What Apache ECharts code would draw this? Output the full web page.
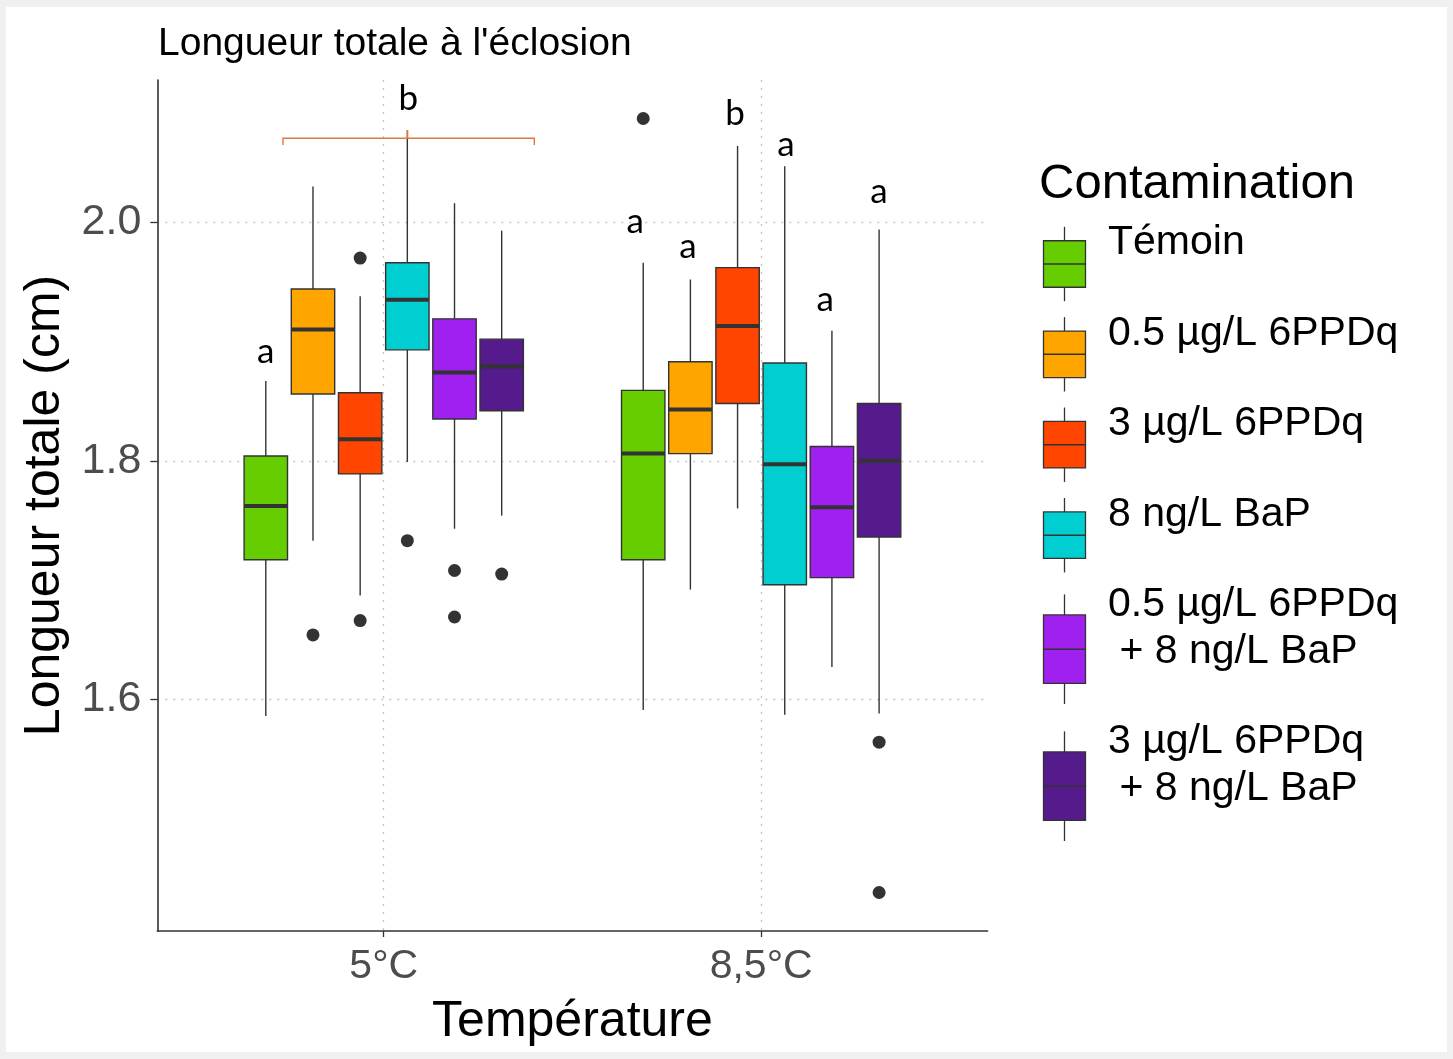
<!DOCTYPE html>
<html>
<head>
<meta charset="utf-8">
<script src="https://cdn.jsdelivr.net/npm/echarts@6/dist/echarts.min.js"></script>
<style>
  html, body { margin: 0; padding: 0; background: #f0f0f0; }
  #main { width: 1453px; height: 1059px; }
</style>
</head>
<body>
<div id="main"></div>
<script>
// Temperature groups on the x axis
const temperatures = ['5°C', '8,5°C'];

// Contamination treatments (legend order)
const treatments = [
  'Témoin',
  '0.5 µg/L 6PPDq',
  '3 µg/L 6PPDq',
  '8 ng/L BaP',
  '0.5 µg/L 6PPDq\n + 8 ng/L BaP',
  '3 µg/L 6PPDq\n + 8 ng/L BaP'
];
const treatmentColors = ['#66CD00', '#FFA500', '#FF4500', '#00CED1', '#A020F0', '#551A8B'];

// Box statistics per treatment, one row per temperature:
// [lower whisker, Q1, median, Q3, upper whisker] (cm)
const temoin   = [[1.586, 1.717, 1.762, 1.804, 1.867], [1.591, 1.717, 1.806, 1.859, 1.966]];
const ppdq05   = [[1.733, 1.856, 1.910, 1.944, 2.030], [1.692, 1.806, 1.843, 1.883, 1.952]];
const ppdq3    = [[1.687, 1.789, 1.818, 1.857, 1.938], [1.760, 1.848, 1.913, 1.962, 2.064]];
const bap8     = [[1.799, 1.893, 1.935, 1.966, 2.070], [1.587, 1.696, 1.797, 1.882, 2.047]];
const mix05    = [[1.743, 1.835, 1.874, 1.919, 2.016], [1.627, 1.702, 1.761, 1.812, 1.909]];
const mix3     = [[1.754, 1.842, 1.879, 1.902, 1.993], [1.588, 1.736, 1.800, 1.848, 1.994]];

// Outlying observations per treatment, one list per temperature
const temoinOut = [[], [2.087]];
const ppdq05Out = [[1.654], []];
const ppdq3Out  = [[1.970, 1.666], []];
const bap8Out   = [[1.733], []];
const mix05Out  = [[1.708, 1.669], []];
const mix3Out   = [[1.705], [1.564, 1.438]];

// Significance letters (x in axis units, y = text baseline in cm)
const sigText = ['a', 'b', 'a', 'a', 'b', 'a', 'a', 'a'];
const sigX    = [0.687, 1.065, 1.666, 1.806, 1.931, 2.066, 2.170, 2.312];
const sigY    = [1.880, 2.092, 1.989, 1.968, 2.080, 2.054, 1.924, 2.014];

// Bracket over the 5°C group: x = [start, centre, end], y = [tips, bar, centre tick]
const bracketX = [0.733, 1.0625, 1.399];
const bracketY = [2.0648, 2.0704, 2.0774];

// Axis ticks
const yTicks = [1.6, 1.8, 2.0];
const xTicks = [1, 2];

const boxStats = [temoin, ppdq05, ppdq3, bap8, mix05, mix3];
const boxOutliers = [temoinOut, ppdq05Out, ppdq3Out, bap8Out, mix05Out, mix3Out];

const DODGE = 0.125;      // spacing between treatments within a group
const BOX_WIDTH = 0.115;  // box width in x-axis units
const INK = '#333333';
const FONT = "'Liberation Sans', Arial, sans-serif";

function boxX(group, idx) {
  return group + 1 + (idx - 2.5) * DODGE;
}

const boxSeries = boxStats.map((stats, idx) => ({
  type: 'custom',
  name: treatments[idx],
  z: 3,
  data: stats.map((s, g) => [boxX(g, idx)].concat(s)),
  encode: { x: 0, y: [1, 2, 3, 4, 5] },
  renderItem(params, api) {
    const x = api.value(0);
    const lo = api.coord([x, api.value(1)]);
    const q1 = api.coord([x, api.value(2)]);
    const med = api.coord([x, api.value(3)]);
    const q3 = api.coord([x, api.value(4)]);
    const hi = api.coord([x, api.value(5)]);
    const w = api.size([BOX_WIDTH, 0])[0];
    const lineStyle = { stroke: INK, lineWidth: 1.4 };
    return {
      type: 'group',
      children: [
        { type: 'line', shape: { x1: lo[0], y1: lo[1], x2: q1[0], y2: q1[1] }, style: lineStyle },
        { type: 'line', shape: { x1: q3[0], y1: q3[1], x2: hi[0], y2: hi[1] }, style: lineStyle },
        {
          type: 'rect',
          shape: { x: q3[0] - w / 2, y: q3[1], width: w, height: q1[1] - q3[1] },
          style: { fill: treatmentColors[idx], stroke: INK, lineWidth: 1.4 }
        },
        {
          type: 'line',
          shape: { x1: med[0] - w / 2, y1: med[1], x2: med[0] + w / 2, y2: med[1] },
          style: { stroke: INK, lineWidth: 4 }
        }
      ]
    };
  }
}));

const outlierData = [];
boxOutliers.forEach((groups, idx) => {
  groups.forEach((vals, g) => {
    vals.forEach(v => outlierData.push([boxX(g, idx), v]));
  });
});

const LETTER_SIZE = 35;

const option = {
  backgroundColor: '#f0f0f0',
  animation: false,
  title: {
    text: "Longueur totale à l'éclosion",
    left: 158,
    top: 25,
    padding: 0,
    textStyle: { fontFamily: FONT, fontSize: 39, fontWeight: 'normal', color: '#000' }
  },
  grid: { left: 157.3, right: 465.4, top: 80, bottom: 128, containLabel: false },
  xAxis: {
    type: 'value',
    min: 0.4,
    max: 2.6,
    name: 'Température',
    nameLocation: 'middle',
    nameGap: 66,
    nameTextStyle: { fontFamily: FONT, fontSize: 50, color: '#000' },
    axisLine: { onZero: false, lineStyle: { color: INK, width: 1.6 } },
    axisTick: { customValues: xTicks, length: 6, lineStyle: { color: INK, width: 1.3 } },
    axisLabel: {
      customValues: xTicks,
      formatter: v => temperatures[Math.round(v) - 1],
      fontFamily: FONT, fontSize: 41, color: '#4d4d4d', margin: 15
    },
    splitLine: { show: true, lineStyle: { color: '#c4c4c4', width: 1.3, type: [2, 6] } }
  },
  yAxis: {
    type: 'value',
    min: 1.4057,
    max: 2.1193,
    name: 'Longueur totale (cm)',
    nameLocation: 'middle',
    nameRotate: 90,
    nameGap: 83,
    nameTextStyle: { fontFamily: FONT, fontSize: 50, color: '#000' },
    axisLine: { show: true, onZero: false, lineStyle: { color: INK, width: 1.6 } },
    axisTick: { show: true, customValues: yTicks, length: 7, lineStyle: { color: INK, width: 1.3 } },
    axisLabel: {
      customValues: yTicks,
      formatter: v => v.toFixed(1),
      fontFamily: FONT, fontSize: 43, color: '#4d4d4d', margin: 16
    },
    splitLine: { show: true, lineStyle: { color: '#c4c4c4', width: 1.3, type: [2, 6] } }
  },
  series: boxSeries.concat([
    {
      type: 'scatter',
      name: 'outliers',
      z: 4,
      symbol: 'circle',
      symbolSize: 13,
      itemStyle: { color: INK, opacity: 1 },
      data: outlierData
    },
    {
      type: 'custom',
      name: 'bracket',
      z: 5,
      data: [[bracketX[0], bracketX[1], bracketX[2], bracketY[0], bracketY[1], bracketY[2]]],
      encode: { x: [0, 1, 2], y: [3, 4, 5] },
      renderItem(params, api) {
        const a = api.coord([api.value(0), api.value(4)]);
        const m = api.coord([api.value(1), api.value(4)]);
        const b = api.coord([api.value(2), api.value(4)]);
        const tipY = api.coord([api.value(0), api.value(3)])[1];
        const topY = api.coord([api.value(1), api.value(5)])[1];
        return {
          type: 'group',
          children: [
            {
              type: 'polyline',
              shape: { points: [[a[0], tipY], a, b, [b[0], tipY]] },
              style: { stroke: '#E0783C', lineWidth: 1.4, fill: null }
            },
            {
              type: 'line',
              shape: { x1: m[0], y1: m[1], x2: m[0], y2: topY },
              style: { stroke: '#E0783C', lineWidth: 2 }
            }
          ]
        };
      }
    },
    {
      type: 'custom',
      name: 'letters',
      z: 6,
      data: sigX.map((x, i) => [x, sigY[i]]),
      encode: { x: 0, y: 1 },
      renderItem(params, api) {
        const p = api.coord([api.value(0), api.value(1)]);
        return {
          type: 'text',
          x: p[0],
          y: p[1] - LETTER_SIZE * 0.387,
          style: {
            text: sigText[params.dataIndex],
            font: LETTER_SIZE + "px Lato, 'Open Sans', sans-serif",
            fill: '#000',
            align: 'center',
            verticalAlign: 'middle'
          }
        };
      }
    }
  ]),
  graphic: []
};

// White panel inside the light frame
option.graphic.push({
  type: 'rect', z: -10, silent: true,
  shape: { x: 6, y: 7, width: 1441, height: 1045 },
  style: { fill: '#ffffff' }
});

// Legend drawn as boxplot keys
const legendCenters = [264, 354.3, 444.7, 535.2, 649.2, 786.2];
const KEY_X = 1043.5, KEY_W = 42;
option.graphic.push({
  type: 'text', left: 1039, top: 160,
  style: { text: 'Contamination', font: '49px ' + FONT, fill: '#000' }
});
treatments.forEach((label, i) => {
  const c = legendCenters[i];
  const h = label.indexOf('\n') >= 0 ? 137 : 93;
  const cx = KEY_X + KEY_W / 2;
  option.graphic.push(
    { type: 'line', shape: { x1: cx, y1: c - 0.4 * h, x2: cx, y2: c + 0.4 * h }, style: { stroke: INK, lineWidth: 1.3 } },
    { type: 'rect', shape: { x: KEY_X, y: c - h / 4, width: KEY_W, height: h / 2 }, style: { fill: treatmentColors[i], stroke: INK, lineWidth: 1.3 } },
    { type: 'line', shape: { x1: KEY_X, y1: c, x2: KEY_X + KEY_W, y2: c }, style: { stroke: INK, lineWidth: 1.6 } },
    {
      type: 'text', x: 1108, y: c - 21,
      style: { text: label, font: '41px ' + FONT, fill: '#000', verticalAlign: 'middle', lineHeight: 46.5 }
    }
  );
});

const chart = echarts.init(document.getElementById('main'), null, { renderer: 'canvas' });
chart.setOption(option);
</script>
</body>
</html>
